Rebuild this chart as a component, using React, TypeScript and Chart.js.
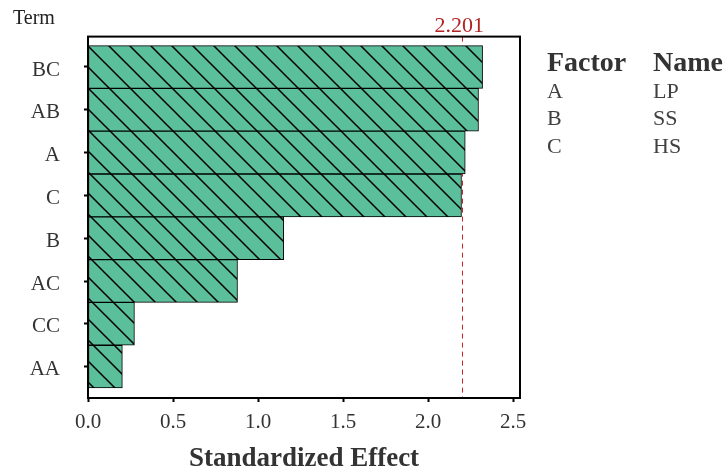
import React, { useEffect, useRef } from "react";
import { Chart, registerables } from "chart.js";

Chart.register(...registerables);

const terms = ["BC", "AB", "A", "C", "B", "AC", "CC", "AA"];
const effects = [2.32, 2.296, 2.218, 2.196, 1.151, 0.879, 0.273, 0.202];
const xTicks = [0, 0.5, 1, 1.5, 2, 2.5];
const critical = 2.201;
const factorCodes = ["A", "B", "C"];
const factorNames = ["LP", "SS", "HS"];

const SERIF = "'Liberation Serif', 'Times New Roman', serif";

function makeHatch(): CanvasPattern | string {
  const s = 21;
  const c = document.createElement("canvas");
  c.width = s;
  c.height = s;
  const g = c.getContext("2d");
  if (!g) return "#5BBF9C";
  g.fillStyle = "#5BBF9C";
  g.fillRect(0, 0, s, s);
  g.strokeStyle = "#000";
  g.lineWidth = 1.5;
  g.beginPath();
  g.moveTo(-2, -2);
  g.lineTo(s + 2, s + 2);
  g.moveTo(-2, s - 2);
  g.lineTo(2, s + 2);
  g.moveTo(s - 2, -2);
  g.lineTo(s + 2, 2);
  g.stroke();
  return g.createPattern(c, "repeat") || "#5BBF9C";
}

export default function App() {
  const ref = useRef<HTMLCanvasElement | null>(null);

  useEffect(() => {
    const canvas = ref.current;
    if (!canvas) return;
    const hatch = makeHatch();

    const decor = {
      id: "decor",
      beforeDatasetsDraw(chart: any) {
        const { ctx, chartArea } = chart;
        const x = chart.scales.x.getPixelForValue(critical);
        ctx.save();
        ctx.strokeStyle = "#cc2222";
        ctx.lineWidth = 1;
        ctx.setLineDash([5, 4]);
        ctx.beginPath();
        ctx.moveTo(Math.round(x) + 0.5, chartArea.top);
        ctx.lineTo(Math.round(x) + 0.5, chartArea.bottom);
        ctx.stroke();
        ctx.restore();
      },
      afterDraw(chart: any) {
        const { ctx, chartArea } = chart;
        ctx.save();
        ctx.strokeStyle = "#000";
        ctx.lineWidth = 2;
        ctx.strokeRect(chartArea.left, chartArea.top, chartArea.right - chartArea.left, chartArea.bottom - chartArea.top);

        ctx.textBaseline = "alphabetic";
        ctx.fillStyle = "#222";
        ctx.textAlign = "left";
        ctx.font = `20px ${SERIF}`;
        ctx.fillText("Term", 13, 24);

        const x = chart.scales.x.getPixelForValue(critical);
        ctx.fillStyle = "#b22222";
        ctx.textAlign = "center";
        ctx.font = `22px ${SERIF}`;
        ctx.fillText(critical.toFixed(3), x - 3, 32);

        ctx.fillStyle = "#333";
        ctx.font = `bold 27px ${SERIF}`;
        ctx.fillText("Standardized Effect", (chartArea.left + chartArea.right) / 2, 466);

        ctx.textAlign = "left";
        ctx.font = `bold 28px ${SERIF}`;
        ctx.fillText("Factor", 547, 71);
        ctx.fillText("Name", 653, 71);
        ctx.font = `22px ${SERIF}`;
        ctx.fillStyle = "#404040";
        const baselines = [98, 125, 153];
        factorCodes.forEach((f, i) => {
          ctx.fillText(f, 547, baselines[i]);
          ctx.fillText(factorNames[i], 653, baselines[i]);
        });
        ctx.restore();
      },
    };

    const chart = new Chart(canvas, {
      type: "bar",
      data: {
        datasets: [
          {
            data: effects.map((v, i) => ({ x: v, y: i })),
            backgroundColor: hatch as any,
            borderColor: "#000",
            borderWidth: 1,
            borderSkipped: false,
            barPercentage: 1,
            categoryPercentage: 1,
          },
        ],
      },
      options: {
        indexAxis: "y",
        animation: false,
        responsive: false,
        maintainAspectRatio: false,
        layout: { padding: { left: 0, top: 36, right: 207, bottom: 0 } },
        plugins: { legend: { display: false }, tooltip: { enabled: false } },
        scales: {
          x: {
            type: "linear",
            min: 0,
            max: 2.54,
            afterBuildTicks: (s: any) => {
              s.ticks = xTicks.map((v) => ({ value: v }));
            },
            afterFit: (s: any) => {
              s.height = 73;
            },
            ticks: {
              callback: (v: any) => Number(v).toFixed(1),
              color: "#333",
              font: { family: SERIF, size: 21 },
              padding: 8,
              maxRotation: 0,
              autoSkip: false,
            },
            grid: { drawOnChartArea: false, drawTicks: true, tickLength: 4, tickWidth: 2, color: "#000" },
            border: { display: true, width: 2, color: "#000" },
          },
          y: {
            type: "linear",
            reverse: true,
            offset: false,
            min: -0.71,
            max: 7.733,
            afterBuildTicks: (s: any) => {
              s.ticks = terms.map((_, i) => ({ value: i }));
            },
            afterFit: (s: any) => {
              s.width = 88;
            },
            ticks: {
              callback: (v: any) => terms[Math.round(Number(v))] ?? "",
              color: "#333",
              font: { family: SERIF, size: 21 },
              padding: 24,
              labelOffset: 3,
              autoSkip: false,
            },
            grid: { offset: false, drawOnChartArea: false, drawTicks: true, tickLength: 4, tickWidth: 2, color: "#000" },
            border: { display: true, width: 2, color: "#000" },
          },
        },
      },
      plugins: [decor],
    } as any);

    return () => chart.destroy();
  }, []);

  return (
    <div style={{ position: "absolute", left: 0, top: 0, width: 727, height: 471, background: "#fff" }}>
      <canvas ref={ref} width={727} height={471} style={{ display: "block" }} />
    </div>
  );
}
